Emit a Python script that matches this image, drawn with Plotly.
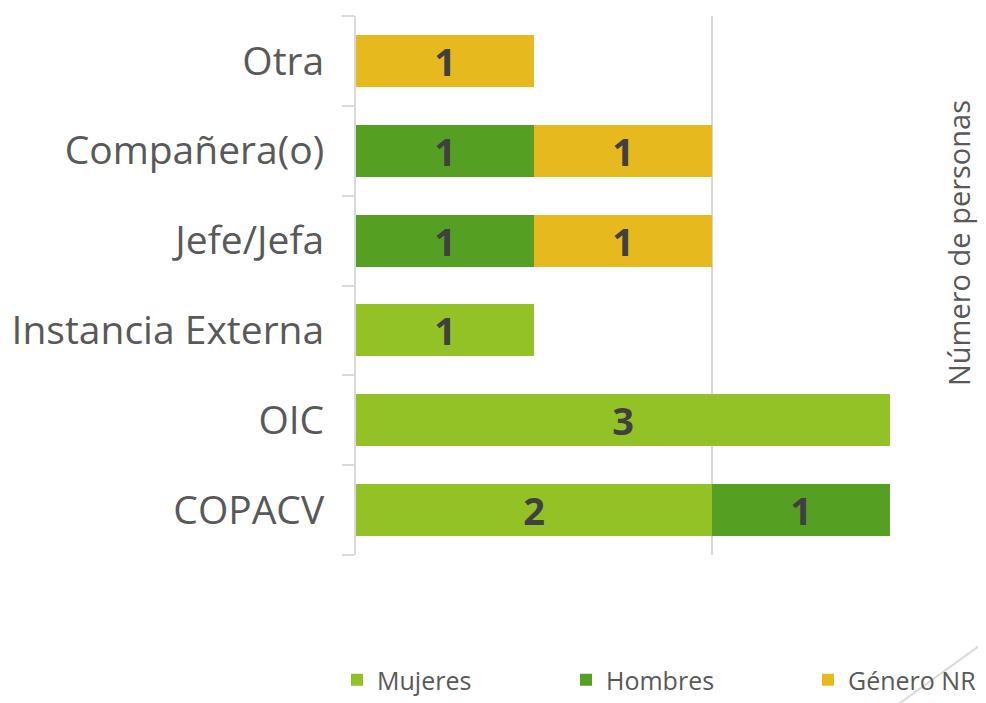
import plotly.graph_objects as go

categories = ["COPACV", "OIC", "Instancia Externa", "Jefe/Jefa", "Compañera(o)", "Otra"]
mujeres = [2, 3, 1, 0, 0, 0]
hombres = [1, 0, 0, 1, 1, 0]
genero_nr = [0, 0, 0, 1, 1, 1]
series_names = ["Mujeres", "Hombres", "Género NR"]
colors = ["#92C225", "#55A022", "#E6B91F"]

OFF = 8  # page body margin
W, H = 986 - OFF, 703 - OFF
# target plot area in page pixels: x 356..890, y 16..555
ml, mt = 356 - OFF, 16 - OFF
mr, mb = W - (890 - OFF), H - (555 - OFF)
PW, PH = W - ml - mr, H - mt - mb
FONT = "Open Sans"


def px(xp):  # page x -> paper x
    return (xp - OFF - ml) / PW


def py(yp):  # page y -> paper y
    return (H - mb - (yp - OFF)) / PH


legend_ids = ["legend", "legend2", "legend3"]
legend_x = [351, 580, 822]

fig = go.Figure()
for name, vals, col, lid in zip(series_names, [mujeres, hombres, genero_nr], colors, legend_ids):
    fig.add_trace(go.Bar(
        y=categories, x=[v if v else None for v in vals], name=name, orientation="h",
        marker=dict(color=col, line=dict(width=0)),
        text=[f"<b>{v}</b>" if v else "" for v in vals],
        textposition="inside", insidetextanchor="middle", textangle=0,
        constraintext="none",
        textfont=dict(family=FONT, size=38, color="#404040"),
        legend=lid, showlegend=True,
    ))

legend_common = dict(orientation="h", yanchor="bottom", y=py(703), xanchor="left",
                     bgcolor="rgba(0,0,0,0)", font=dict(family=FONT, size=25, color="#595959"),
                     itemwidth=30, borderwidth=0, visible=True)

fig.update_layout(
    width=W, height=H, barmode="stack", bargap=0.42, showlegend=True,
    margin=dict(l=ml, r=mr, t=mt, b=mb, autoexpand=False),
    plot_bgcolor="white", paper_bgcolor="white",
    font=dict(family=FONT, color="#595959"),
    uniformtext=dict(mode=False),
    xaxis=dict(range=[0, 3], dtick=2, showticklabels=False, showgrid=True,
               gridcolor="#D9D9D9", gridwidth=2, zeroline=False, showline=False),
    yaxis=dict(showline=True, linecolor="#D9D9D9", linewidth=2, ticks="outside",
               tickson="boundaries", ticklen=12, tickcolor="#D9D9D9", tickwidth=2,
               tickfont=dict(family=FONT, size=39, color="#595959"), ticklabelstandoff=22,
               showgrid=False, automargin=False),
    legend=dict(legend_common, x=px(legend_x[0] - 14)),
    legend2=dict(legend_common, x=px(legend_x[1] - 14)),
    legend3=dict(legend_common, x=px(legend_x[2] - 14)),
    annotations=[dict(text="Número de personas", textangle=-90, x=px(958),
                      y=py(243), xref="paper", yref="paper", xanchor="center", yanchor="middle",
                      showarrow=False, font=dict(family=FONT, size=29, color="#595959"))],
    shapes=[dict(type="line", xref="paper", yref="paper",
                 x0=px(900), y0=py(703), x1=px(986), y1=py(641),
                 line=dict(color="#D9D9D9", width=2))],
)

fig.write_html("out.html")
